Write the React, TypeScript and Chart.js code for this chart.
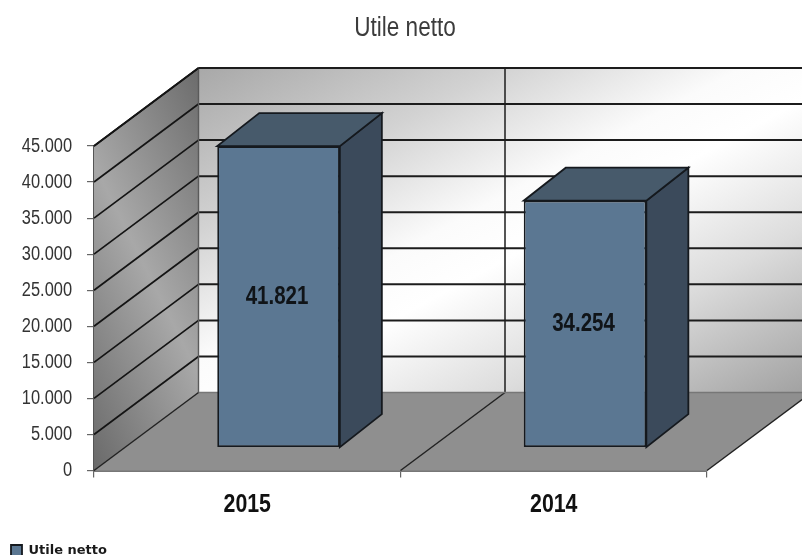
import React, { useEffect, useRef } from "react";
import { Chart, registerables } from "chart.js";

Chart.register(...registerables);

const categories = ["2015", "2014"];
const seriesName = "Utile netto";
const seriesValues = [41821, 34254];
const chartTitle = "Utile netto";
const yMax = 45000;
const yStep = 5000;

const NARROW = '"Liberation Sans", sans-serif';
const SX = 0.82;
const WALL = { dx: 104.5, dy: -78 };
const BAR_OFFSET = { dx: 31.3, dy: -22.8 };
const BAR_DEPTH = { dx: 42, dy: -33 };

const fmt = (v: number) => String(v).replace(/\B(?=(\d{3})+(?!\d))/g, ".");

const poly = (ctx: CanvasRenderingContext2D, pts: number[][], fill?: any, stroke?: string, lw = 1) => {
  ctx.beginPath();
  pts.forEach((p, i) => (i ? ctx.lineTo(p[0], p[1]) : ctx.moveTo(p[0], p[1])));
  ctx.closePath();
  if (fill) {
    ctx.fillStyle = fill;
    ctx.fill();
  }
  if (stroke) {
    ctx.strokeStyle = stroke;
    ctx.lineWidth = lw;
    ctx.stroke();
  }
};

const line = (ctx: CanvasRenderingContext2D, a: number[], b: number[], c: string, lw: number) => {
  ctx.beginPath();
  ctx.moveTo(a[0], a[1]);
  ctx.lineTo(b[0], b[1]);
  ctx.strokeStyle = c;
  ctx.lineWidth = lw;
  ctx.stroke();
};

// Narrow the tick labels horizontally, keeping each one anchored at its own position.
const condenseScale = (scale: any, ctx: CanvasRenderingContext2D) => {
  const orig = scale.drawLabels;
  scale.drawLabels = function (area: any) {
    const items = scale.getLabelItems(area);
    items.forEach((it: any) => {
      if (!it.__condensed) {
        it.options.translation = [it.options.translation[0] / SX, it.options.translation[1]];
        it.__condensed = true;
      }
    });
    ctx.save();
    ctx.scale(SX, 1);
    orig.call(scale, area);
    ctx.restore();
  };
};

const box3d = {
  id: "box3d",
  beforeDatasetsDraw(chart: any) {
    const { ctx, chartArea: a, scales } = chart;
    const y = scales.y;
    const x = scales.x;
    const { dx, dy } = WALL;
    ctx.save();
    // back wall
    const g = ctx.createLinearGradient(a.left + dx + 167, a.top + dy - 90, a.left + dx + 437, a.top + dy + 414);
    g.addColorStop(0, "#a8a8a8");
    g.addColorStop(0.25, "#d2d2d2");
    g.addColorStop(0.45, "#fbfbfb");
    g.addColorStop(0.55, "#ffffff");
    g.addColorStop(0.75, "#dcdcdc");
    g.addColorStop(1, "#a2a2a2");
    poly(ctx, [[a.left + dx, a.top + dy], [a.right + dx, a.top + dy], [a.right + dx, a.bottom + dy], [a.left + dx, a.bottom + dy]], g);
    // side wall
    const s = ctx.createLinearGradient(a.left + 173, a.top + 63, a.left - 69, a.top + 183);
    s.addColorStop(0, "#6c6c6c");
    s.addColorStop(0.5, "#a8a8a8");
    s.addColorStop(1, "#6a6a6a");
    poly(ctx, [[a.left, a.top], [a.left + dx, a.top + dy], [a.left + dx, a.bottom + dy], [a.left, a.bottom]], s);
    // floor
    poly(ctx, [[a.left, a.bottom], [a.right, a.bottom], [a.right + dx, a.bottom + dy], [a.left + dx, a.bottom + dy]], "#8f8f8f");
    // horizontal grid on both walls
    y.ticks.forEach((t: any) => {
      const py = y.getPixelForValue(t.value);
      if (t.value === 0) return;
      line(ctx, [a.left, py], [a.left + dx, py + dy], "#141414", 1.7);
      line(ctx, [a.left + dx, py + dy], [a.right + dx, py + dy], "#1c1c1c", 2);
    });
    // category divider on back wall and floor
    const mid = (x.getPixelForValue(0) + x.getPixelForValue(1)) / 2;
    line(ctx, [mid + dx, a.top + dy], [mid + dx, a.bottom + dy], "#1c1c1c", 1.5);
    line(ctx, [mid, a.bottom], [mid + dx, a.bottom + dy], "#222222", 1.5);
    // edges
    line(ctx, [a.left + dx, a.top + dy], [a.left + dx, a.bottom + dy], "#5a5a5a", 1.4);
    line(ctx, [a.left + dx, a.bottom + dy], [a.right + dx, a.bottom + dy], "#777777", 1.4);
    line(ctx, [a.left, a.bottom], [a.left + dx, a.bottom + dy], "#222222", 1.5);
    line(ctx, [a.right, a.bottom], [a.right + dx, a.bottom + dy], "#222222", 1.5);
    line(ctx, [a.left, a.top], [a.left + dx, a.top + dy], "#141414", 1.7);
    line(ctx, [a.left + dx, a.top + dy], [a.right + dx, a.top + dy], "#1c1c1c", 2);
    // depth faces of the bars
    const meta = chart.getDatasetMeta(0);
    meta.data.forEach((bar: any) => {
      const l = bar.x - bar.width / 2 + BAR_OFFSET.dx;
      const r = bar.x + bar.width / 2 + BAR_OFFSET.dx;
      const t = bar.y + BAR_OFFSET.dy;
      const b = bar.base + BAR_OFFSET.dy;
      const d = BAR_DEPTH;
      poly(ctx, [[r, t], [r + d.dx, t + d.dy], [r + d.dx, b + d.dy], [r, b]], "#3b4a5b", "#15191e", 1.8);
      poly(ctx, [[l, t], [r, t], [r + d.dx, t + d.dy], [l + d.dx, t + d.dy]], "#475a6b", "#15191e", 1.8);
    });
    ctx.restore();
  },
  beforeDatasetDraw(chart: any) {
    chart.ctx.save();
    chart.ctx.translate(BAR_OFFSET.dx, BAR_OFFSET.dy);
  },
  afterDatasetDraw(chart: any) {
    const { ctx } = chart;
    const meta = chart.getDatasetMeta(0);
    ctx.fillStyle = "#101418";
    ctx.font = `bold 25px ${NARROW}`;
    ctx.textAlign = "center";
    ctx.textBaseline = "middle";
    meta.data.forEach((bar: any, i: number) => {
      const c = bar.getCenterPoint();
      ctx.save();
      ctx.translate(c.x - 1.5, c.y);
      ctx.scale(SX, 1);
      ctx.fillText(fmt(seriesValues[i]), 0, 0);
      ctx.restore();
    });
    ctx.restore();
  },
  afterLayout(chart: any) {
    const { ctx } = chart;
    condenseScale(chart.scales.x, ctx);
    condenseScale(chart.scales.y, ctx);
    const tb = chart.titleBlock;
    const drawTitle = tb.draw;
    tb.draw = function () {
      const { left, right } = tb;
      tb.left = (left + 51.5) / SX;
      tb.right = (right + 51.5) / SX;
      ctx.save();
      ctx.scale(SX, 1);
      drawTitle.call(tb);
      ctx.restore();
      tb.left = left;
      tb.right = right;
    };
    chart.legend.left += 9;
    chart.legend.top = 542;
  },
};

export default function App() {
  const ref = useRef<HTMLCanvasElement>(null);
  useEffect(() => {
    const chart = new Chart(ref.current as HTMLCanvasElement, {
      type: "bar",
      data: {
        labels: categories,
        datasets: [
          {
            label: seriesName,
            data: seriesValues,
            backgroundColor: "#5b7792",
            borderColor: "#15191e",
            borderWidth: 1.8,
            borderSkipped: false,
            barPercentage: 0.4,
            categoryPercentage: 1,
          },
        ],
      },
      plugins: [box3d],
      options: {
        animation: false,
        responsive: false,
        devicePixelRatio: 1,
        layout: { padding: { left: 0, right: 95, top: 0, bottom: 0 } },
        plugins: {
          title: {
            display: true,
            text: chartTitle,
            color: "#3c3c3c",
            font: { family: NARROW, size: 27.5, weight: "normal" },
            padding: { top: 12, bottom: 101 },
          },
          legend: {
            position: "bottom",
            align: "start",
            labels: {
              boxWidth: 11,
              boxHeight: 11,
              padding: 2,
              color: "#1a1a1a",
              font: { family: '"DejaVu Sans"', size: 13, weight: "bold" },
            },
          },
          tooltip: { enabled: false },
        },
        scales: {
          x: {
            afterFit: (s: any) => {
              s.height = 59.5;
            },
            grid: { drawOnChartArea: false, tickLength: 7, color: "#666666", lineWidth: 1.2 },
            border: { color: "#777777", width: 2 },
            ticks: {
              padding: 12,
              color: "#111111",
              maxRotation: 0,
              font: { family: NARROW, size: 26, weight: "bold" },
            },
          },
          y: {
            min: 0,
            max: yMax,
            afterFit: (s: any) => {
              s.width = 94;
            },
            grid: { drawOnChartArea: false, tickLength: 7, color: "#666666", lineWidth: 1.2 },
            border: { color: "#555555", width: 1.4 },
            ticks: {
              stepSize: yStep,
              padding: 15,
              color: "#333333",
              font: { family: NARROW, size: 20 },
              callback: (v: any) => fmt(Number(v)),
            },
          },
        },
      } as any,
    });
    return () => chart.destroy();
  }, []);
  return (
    <div style={{ position: "fixed", left: 0, top: 0, width: 802, height: 555, background: "#fff", overflow: "hidden" }}>
      <canvas ref={ref} width={802} height={555} style={{ display: "block", filter: "blur(0.5px)" }} />
    </div>
  );
}
